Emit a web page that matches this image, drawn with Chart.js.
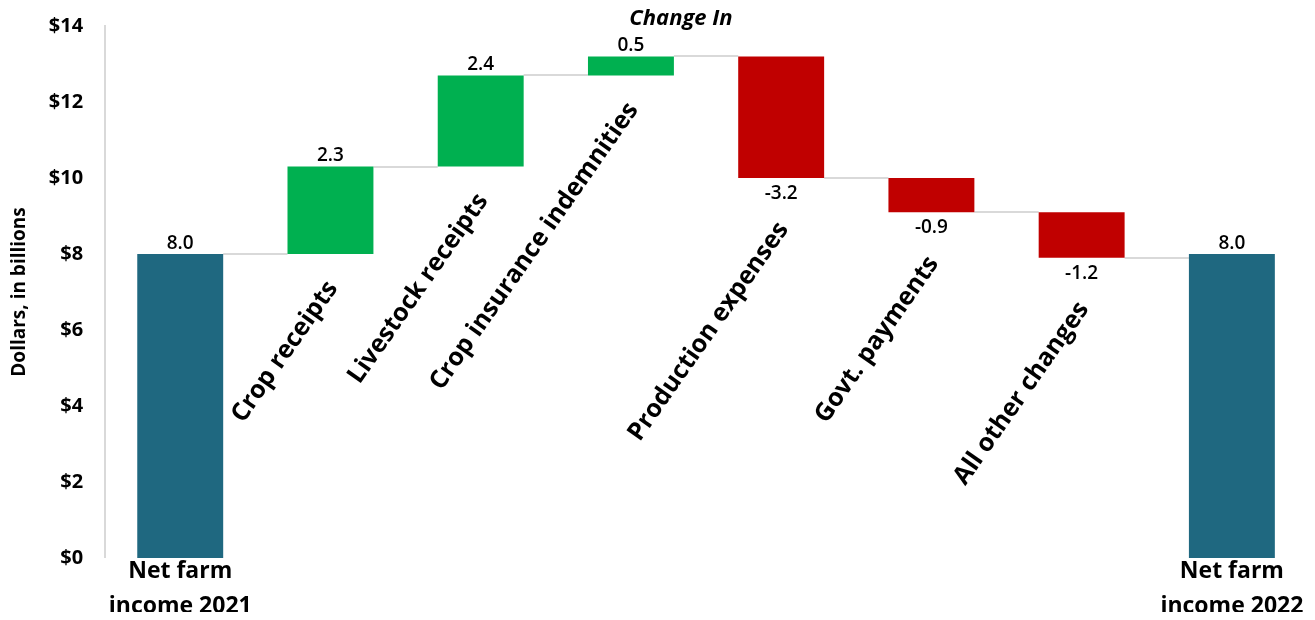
<!DOCTYPE html>
<html>
<head>
<meta charset="utf-8">
<script src="https://cdn.jsdelivr.net/npm/chart.js@4"></script>
<style>
  html, body { margin: 0; padding: 0; background: #fff; }
  #wrap { width: 1315px; height: 620px; position: relative; }
</style>
</head>
<body>
<div id="wrap"><canvas id="waterfall"></canvas></div>
<script>
const categories = [
  'Net farm income 2021',
  'Crop receipts',
  'Livestock receipts',
  'Crop insurance indemnities',
  'Production expenses',
  'Govt. payments',
  'All other changes',
  'Net farm income 2022'
];
const changes = [8.0, 2.3, 2.4, 0.5, -3.2, -0.9, -1.2, 8.0];
const isTotal = [true, false, false, false, false, false, false, true];
const yTicks = [0, 2, 4, 6, 8, 10, 12, 14];

const TEAL = '#1f6880';
const GREEN = '#00b050';
const RED = '#c00000';
const FONT = '"Open Sans", "DejaVu Sans", sans-serif';

// floating bars: totals start at zero, changes start where the last bar ended
let running = 0;
const ranges = changes.map((v, i) => {
  if (isTotal[i]) { running = v; return [0, v]; }
  const start = running;
  running += v;
  return [start, running];
});
const ends = ranges.map(r => r[1]);
const colors = changes.map((v, i) => isTotal[i] ? TEAL : (v >= 0 ? GREEN : RED));

const waterfallExtras = {
  id: 'waterfallExtras',
  beforeDatasetsDraw(chart) {
    const { ctx, scales: { y } } = chart;
    const bars = chart.getDatasetMeta(0).data;
    ctx.save();
    ctx.strokeStyle = '#d9d9d9';
    ctx.lineWidth = 2;
    for (let i = 0; i < bars.length - 1; i++) {
      const yy = Math.round(y.getPixelForValue(ends[i]));
      ctx.beginPath();
      ctx.moveTo(bars[i].x + bars[i].width / 2, yy);
      ctx.lineTo(bars[i + 1].x - bars[i + 1].width / 2, yy);
      ctx.stroke();
    }
    ctx.restore();
  },
  afterDatasetsDraw(chart) {
    const { ctx, scales: { y } } = chart;
    const bars = chart.getDatasetMeta(0).data;
    ctx.save();
    bars.forEach((bar, i) => {
      const v = changes[i];
      const top = y.getPixelForValue(Math.max(ranges[i][0], ranges[i][1]));
      const bottom = y.getPixelForValue(Math.min(ranges[i][0], ranges[i][1]));
      // value label
      ctx.fillStyle = '#000';
      ctx.font = '600 19px ' + FONT;
      ctx.textAlign = 'center';
      if (v >= 0) {
        ctx.textBaseline = 'bottom';
        ctx.fillText(v.toFixed(1), bar.x, top - 1);
      } else {
        ctx.textBaseline = 'top';
        ctx.fillText(v.toFixed(1), bar.x, bottom + 6);
      }
      // slanted category name under each change bar
      if (!isTotal[i]) {
        const offset = v >= 0 ? 30 : 47;
        ctx.save();
        ctx.translate(bar.x + 2, bottom + offset);
        ctx.rotate(-55 * Math.PI / 180);
        ctx.font = 'bold 25px ' + FONT;
        ctx.textAlign = 'right';
        ctx.textBaseline = 'middle';
        ctx.fillText(categories[i], 0, 0);
        ctx.restore();
      }
    });
    // heading over the change bars
    ctx.font = 'italic bold 22px ' + FONT;
    ctx.textAlign = 'center';
    ctx.textBaseline = 'middle';
    ctx.fillText('Change In', 681, 19);
    ctx.restore();
  }
};

new Chart(document.getElementById('waterfall').getContext('2d'), {
  type: 'bar',
  data: {
    labels: categories,
    datasets: [{
      data: ranges,
      backgroundColor: colors,
      borderWidth: 0,
      barPercentage: 0.572,
      categoryPercentage: 1.0
    }]
  },
  options: {
    responsive: true,
    maintainAspectRatio: false,
    animation: false,
    layout: { padding: { top: 16, right: 8, left: 6, bottom: 8 } },
    plugins: {
      legend: { display: false },
      tooltip: { enabled: false }
    },
    scales: {
      x: {
        grid: { display: false },
        border: { display: false },
        ticks: {
          autoSkip: false,
          maxRotation: 0,
          minRotation: 0,
          padding: -11,
          color: '#000',
          font: { family: FONT, size: 23, weight: 'bold', lineHeight: 1.48 },
          callback: (val, idx) => {
            if (!isTotal[idx]) return '';
            const name = categories[idx];
            return ['Net farm', name.replace('Net farm ', '')];
          }
        }
      },
      y: {
        min: 0,
        max: 14,
        afterBuildTicks: axis => { axis.ticks = yTicks.map(v => ({ value: v })); },
        grid: { display: false },
        border: { color: '#d9d9d9', width: 2 },
        ticks: {
          padding: 14,
          color: '#000',
          font: { family: FONT, size: 20, weight: 'bold' },
          callback: v => '$' + v
        },
        title: {
          display: true,
          text: 'Dollars, in billions',
          color: '#000',
          font: { family: FONT, size: 19, weight: 'bold' },
          padding: { top: 2, bottom: 4 }
        }
      }
    }
  },
  plugins: [waterfallExtras]
});
</script>
</body>
</html>
